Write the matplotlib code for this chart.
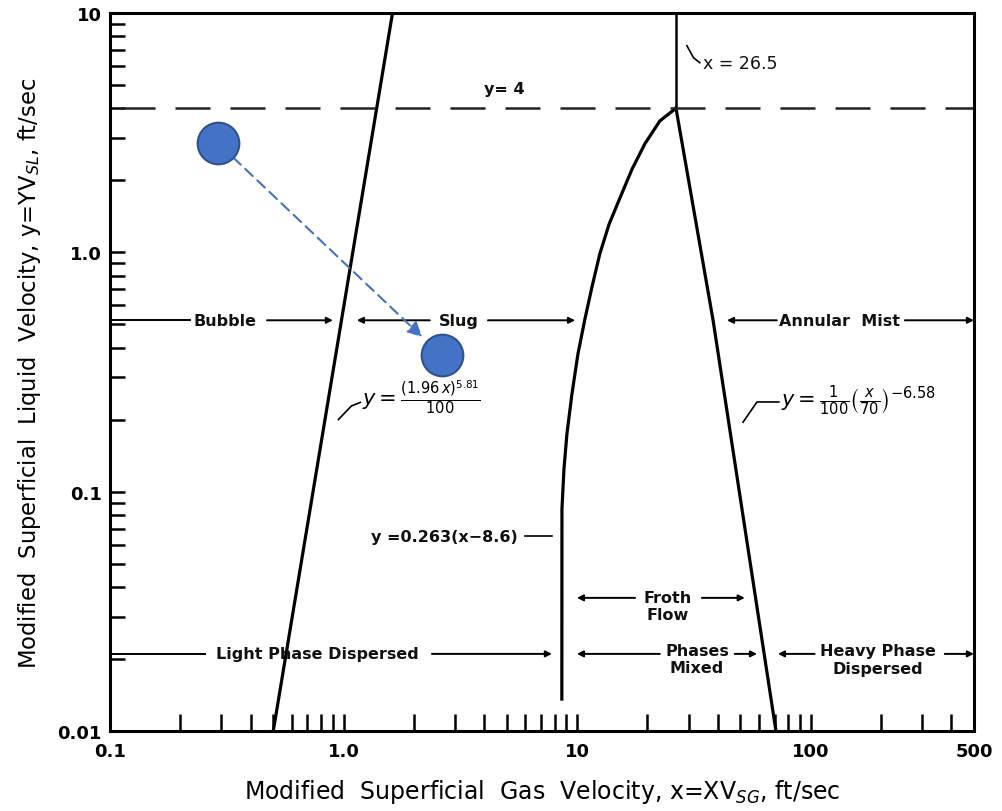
import matplotlib
matplotlib.use("Agg")
import matplotlib.pyplot as plt
from matplotlib.ticker import LogLocator, FixedLocator, FixedFormatter, NullFormatter

plt.rcParams['font.family'] = ['DejaVu Sans']
plt.rcParams['mathtext.fontset'] = 'dejavusans'

# ---------------- data ----------------
# Bubble / slug boundary  y = (1.96x)^5.81 / 100  (straight on log-log)
bubble_x = [0.50, 1.62]
bubble_y = [0.01, 10.0]

# Slug / froth boundary  y = 0.263(x - 8.6)
froth_left_x = [8.6, 8.61, 8.78, 9.04, 9.50, 10.08, 10.8, 11.6, 12.5, 13.7,
                15.3, 17.2, 19.5, 22.6, 26.5]
froth_left_y = [0.0136, 0.0846, 0.124, 0.174, 0.256, 0.376, 0.527, 0.723, 0.984, 1.31,
                1.70, 2.23, 2.84, 3.54, 4.0]

# Froth / annular boundary  y = (1/100)(x/70)^-6.58
froth_right_x = [26.5, 38.2, 71.0]
froth_right_y = [4.0, 0.52, 0.01]

# Vertical boundary x = 26.5 above y = 4
vert_x = [26.5, 26.5]
vert_y = [4.0, 10.0]

# Horizontal dashed boundary y = 4
dash_x = [0.11, 500]
dash_y = [4.0, 4.0]

# Example points (blue markers)
pts_x = [0.29, 2.64]
pts_y = [2.86, 0.372]

x_ticks = [0.1, 1.0, 10, 100, 500]
x_ticklabels = ["0.1", "1.0", "10", "100", "500"]
y_ticks = [0.01, 0.1, 1.0, 10]
y_ticklabels = ["0.01", "0.1", "1.0", "10"]

# Region label guide lines: (level, x_start, x_end, arrow_at) arrow_at in {None,'start','end'}
level_top = 0.52
level_froth = 0.036
level_bot = 0.021
guide_segments = [
    (level_top, 0.1, 0.22, None), (level_top, 0.47, 0.90, 'end'),
    (level_top, 1.14, 2.34, 'start'), (level_top, 4.15, 9.8, 'end'),
    (level_top, 43.8, 71.6, 'start'), (level_top, 253, 500, 'end'),
    (level_bot, 0.1, 0.255, None), (level_bot, 2.39, 7.8, 'end'),
    (level_bot, 9.98, 22.6, 'start'), (level_bot, 47.3, 58.9, 'end'),
    (level_bot, 72.4, 104, 'start'), (level_bot, 375, 500, 'end'),
    (level_froth, 9.98, 17.7, 'start'), (level_froth, 34.2, 52.2, 'end'),
]

# ---------------- figure ----------------
fig = plt.figure(figsize=(10.02, 8.12), dpi=100)
ax = fig.add_axes([0.1098, 0.0985, 0.972 - 0.1098, 0.9828 - 0.0985])
ax.set_xscale('log')
ax.set_yscale('log')
ax.set_xlim(0.1, 500)
ax.set_ylim(0.01, 10)

lw = 2.3
ax.plot(bubble_x, bubble_y, color='black', lw=lw, solid_capstyle='butt')
ax.plot(froth_left_x, froth_left_y, color='black', lw=lw, solid_joinstyle='round')
ax.plot(froth_right_x, froth_right_y, color='black', lw=lw)
ax.plot(vert_x, vert_y, color='black', lw=1.8)
ax.plot(dash_x, dash_y, color='#222222', lw=1.8, linestyle=(0, (14, 8)))

# guide lines with arrows
for lev, xs, xe, arr in guide_segments:
    if arr == 'end':
        ax.annotate('', xy=(xe, lev), xytext=(xs, lev),
                    arrowprops=dict(arrowstyle='-|>', color='black', lw=1.4,
                                    mutation_scale=9, shrinkA=0, shrinkB=0))
    elif arr == 'start':
        ax.annotate('', xy=(xs, lev), xytext=(xe, lev),
                    arrowprops=dict(arrowstyle='-|>', color='black', lw=1.4,
                                    mutation_scale=9, shrinkA=0, shrinkB=0))
    else:
        ax.plot([xs, xe], [lev, lev], color='black', lw=1.4)

tkw = dict(fontsize=11.5, fontweight='bold', ha='center', va='center', color='#111111')
ax.text(0.31, level_top, "Bubble", **tkw)
ax.text(3.12, level_top, "Slug", **tkw)
ax.text(133, level_top, "Annular  Mist", **tkw)
ax.text(0.77, level_bot, "Light Phase Dispersed", **tkw)
ax.text(24.5, level_froth, "Froth", **tkw)
ax.text(24.5, 0.0308, "Flow", **tkw)
ax.text(32.6, 0.0218, "Phases", **tkw)
ax.text(32.6, 0.0185, "Mixed", **tkw)
ax.text(194, 0.0218, "Heavy Phase", **tkw)
ax.text(194, 0.0182, "Dispersed", **tkw)

ax.text(4.9, 4.85, "y= 4", **tkw)
ax.text(34.5, 6.2, "x = 26.5", fontsize=12.5, ha='left', va='center', color='#111111')
ax.plot([29.5, 31.5, 33.5], [7.3, 6.5, 6.2], color='black', lw=1.2)

ax.text(2.15, 0.25, r"$y=\frac{(1.96\,x)^{5.81}}{100}$", fontsize=15, ha='center', va='center')
ax.plot([0.95, 1.08, 1.18], [0.20, 0.228, 0.236], color='black', lw=1.2)

ax.text(160, 0.243, r"$y=\frac{1}{100}\left(\frac{x}{70}\right)^{-6.58}$", fontsize=15,
        ha='center', va='center')
ax.plot([51.3, 58.9, 73.0], [0.195, 0.237, 0.237], color='black', lw=1.2)

ax.text(5.55, 0.0652, "y =0.263(x\u22128.6)", fontsize=11.5, fontweight='bold',
        ha='right', va='center', color='#111111')
ax.plot([5.98, 7.8], [0.0652, 0.0652], color='black', lw=1.2)

# blue example points and dashed arrow
ax.annotate('', xy=(2.17, 0.443), xytext=(pts_x[0], pts_y[0]),
            arrowprops=dict(arrowstyle='-|>', color='#4472C4', lw=1.5, linestyle=(0, (5, 3)),
                            mutation_scale=22, shrinkA=15, shrinkB=0))
ax.scatter(pts_x, pts_y, s=900, color='#4472C4', edgecolor='#2F528F', linewidth=1.5, zorder=5)

# axes styling
for sp in ax.spines.values():
    sp.set_linewidth(2.2)
ax.xaxis.set_major_locator(FixedLocator(x_ticks))
ax.xaxis.set_major_formatter(FixedFormatter(x_ticklabels))
ax.yaxis.set_major_locator(FixedLocator(y_ticks))
ax.yaxis.set_major_formatter(FixedFormatter(y_ticklabels))
ax.xaxis.set_minor_locator(LogLocator(base=10, subs=range(2, 10), numticks=20))
ax.yaxis.set_minor_locator(LogLocator(base=10, subs=range(2, 10), numticks=20))
ax.xaxis.set_minor_formatter(NullFormatter())
ax.yaxis.set_minor_formatter(NullFormatter())
ax.tick_params(axis='both', which='both', direction='in', top=False, right=False, width=1.8)
ax.tick_params(axis='x', which='both', length=12, pad=8)
ax.tick_params(axis='y', which='both', length=11, pad=6)
for lab in ax.get_xticklabels() + ax.get_yticklabels():
    lab.set_fontsize(13)
    lab.set_fontweight('bold')

ax.set_xlabel(r"Modified  Superficial  Gas  Velocity, x=XV$_{SG}$, ft/sec", fontsize=17, labelpad=12)
ax.set_ylabel(r"Modified  Superficial  Liquid  Velocity, y=YV$_{SL}$, ft/sec", fontsize=16.3, labelpad=10)

fig.savefig("out.png", dpi=100)
